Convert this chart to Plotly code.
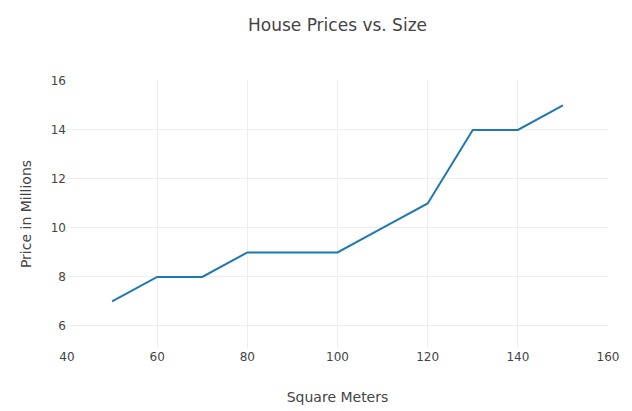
import plotly.graph_objects as go

sizes = [50, 60, 70, 80, 90, 100, 110, 120, 130, 140, 150]
prices = [7, 8, 8, 9, 9, 9, 10, 11, 14, 14, 15]
x_ticks = [40, 60, 80, 100, 120, 140, 160]
y_ticks = [6, 8, 10, 12, 14, 16]

fig = go.Figure(go.Scatter(x=sizes, y=prices, mode="lines",
                           line=dict(color="#1f77b4", width=2)))
fig.update_layout(
    template="plotly_white",
    width=632, height=411,
    margin=dict(l=59, r=32, t=72, b=71),
    font=dict(family="Verdana, DejaVu Sans", size=12, color="#444"),
    title=dict(text="House Prices vs. Size", x=0.5, xref="paper",
               y=0.959, yanchor="middle", font=dict(size=17)),
    xaxis=dict(title=dict(text="Square Meters", standoff=29), range=[40, 160],
               tickvals=x_ticks, showline=False, zeroline=False,
               gridcolor="#eee"),
    yaxis=dict(title=dict(text="Price in Millions"), range=[5.1, 16.04],
               tickvals=y_ticks, showline=False, zeroline=False,
               gridcolor="#eee"),
    showlegend=False,
)
fig.write_html("out.html")
